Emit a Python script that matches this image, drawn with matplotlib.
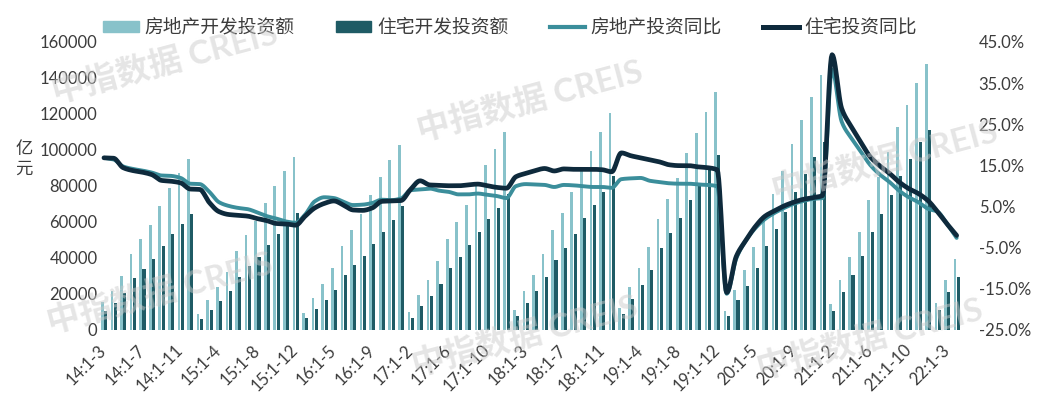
import numpy as np
import matplotlib
matplotlib.use("Agg")
import matplotlib.pyplot as plt
from matplotlib.patches import Patch
from matplotlib.lines import Line2D
from matplotlib.ticker import FuncFormatter

# ---------------- data ----------------
periods = ([f"14:1-{m}" for m in range(3, 13)]
           + [f"{y}:1-{m}" for y in range(15, 22) for m in range(2, 13)]
           + [f"22:1-{m}" for m in range(2, 5)])

# 房地产开发投资额 (亿元)
total_inv = [
    15339, 21592, 30038, 42019, 50258, 58384, 68751, 78816, 87229, 95036,
    8786, 16403, 23669, 32167, 43955, 52494, 60598, 70535, 80090, 88481, 95979,
    9454, 17677, 25282, 34300, 46631, 55360, 64167, 74598, 84743, 94306, 102581,
    9854, 19292, 27732, 37970, 50610, 59761, 69494, 80644, 91533, 100387, 109799,
    10927, 21291, 30592, 42119, 55531, 64691, 76519, 88948, 99325, 110083, 120264,
    12090, 23803, 34217, 46075, 61609, 72843, 84589, 98008, 109603, 121265, 132194,
    10115, 21963, 33103, 45920, 62780, 75325, 88454, 103484, 116556, 129492, 141443,
    13986, 27576, 40240, 54318, 72179, 84895, 98949, 112568, 124934, 137086, 147602,
    14499, 27765, 39154,
]
# 住宅开发投资额 (亿元)
resi_inv = [
    10513, 14707, 20432, 28447, 33925, 39431, 46354, 53123, 58725, 64352,
    5958, 11063, 15941, 21666, 29446, 35141, 40464, 47001, 53265, 58719, 64595,
    6261, 11582, 16512, 22255, 30190, 35693, 41142, 47833, 54367, 60742, 68704,
    6658, 12851, 18593, 25508, 34144, 40264, 46936, 54347, 61713, 67769, 75148,
    7468, 14768, 21250, 29278, 38523, 45117, 53257, 61873, 69093, 76622, 85192,
    8529, 17097, 24703, 33013, 45167, 53564, 62189, 72146, 80721, 89495, 97071,
    7424, 16183, 24473, 34102, 46350, 55727, 65454, 76769, 86457, 96162, 104446,
    10428, 20624, 30420, 40951, 54393, 64206, 75029, 85508, 94992, 104342, 111173,
    10819, 20761, 29232,
]
# 房地产投资同比 (%)
total_yoy = [
    16.8, 16.4, 14.7, 14.1, 13.7, 13.2, 12.5, 12.4, 11.9, 10.5,
    10.4, 8.5, 6.0, 5.1, 4.6, 4.3, 3.5, 2.6, 2.0, 1.3, 1.0,
    3.0, 6.2, 7.2, 7.0, 6.1, 5.3, 5.4, 5.8, 6.6, 6.5, 6.9,
    8.9, 9.1, 9.3, 8.8, 8.5, 7.9, 7.9, 8.1, 7.8, 7.5, 7.0,
    9.9, 10.4, 10.3, 10.2, 9.7, 10.2, 10.1, 9.9, 9.7, 9.7, 9.5,
    11.6, 11.8, 11.9, 11.2, 10.9, 10.6, 10.5, 10.5, 10.3, 10.2, 9.9,
    -16.3, -7.7, -3.3, -0.3, 1.9, 3.4, 4.6, 5.6, 6.3, 6.8, 7.0,
    38.3, 25.6, 21.6, 18.3, 15.0, 12.7, 10.9, 8.8, 7.2, 6.0, 4.4,
    3.7, 0.7, -2.7,
]
# 住宅投资同比 (%)
resi_yoy = [
    16.8, 16.7, 14.4, 13.7, 13.3, 12.7, 11.3, 11.1, 10.7, 9.2,
    9.1, 5.9, 3.7, 3.0, 2.8, 2.6, 2.0, 1.5, 0.8, 0.7, 0.4,
    2.6, 4.6, 5.7, 6.3, 5.3, 4.1, 4.0, 4.6, 6.2, 6.3, 6.4,
    9.1, 11.2, 10.2, 10.1, 10.0, 10.0, 10.2, 10.4, 10.0, 9.6, 9.4,
    12.2, 13.0, 13.7, 14.2, 13.6, 14.1, 14.0, 14.0, 14.0, 13.9, 13.4,
    18.0, 17.3, 16.8, 16.3, 15.8, 15.1, 14.9, 14.9, 14.6, 14.4, 13.9,
    -16.0, -7.2, -3.3, 0.1, 2.6, 3.9, 5.1, 6.0, 6.7, 7.1, 7.6,
    41.9, 28.8, 24.4, 20.6, 17.0, 14.8, 13.0, 10.9, 9.3, 8.1, 6.4,
    3.7, 0.7, -2.1,
]

labels = ["房地产开发投资额", "住宅开发投资额", "房地产投资同比", "住宅投资同比"]

# ---------------- style ----------------
C_LIGHT = "#88c2ca"
C_DARK = "#1f5b65"
C_TEAL = "#3b8e9b"
C_NAVY = "#0e2a3c"
C_TEXT = "#3c3c3c"
FONT = ["Lato", "Noto Sans CJK SC", "DejaVu Sans"]
plt.rcParams["font.family"] = FONT

W, H = 1039, 397
fig = plt.figure(figsize=(W / 100, H / 100), dpi=100)
left, right, top, bottom = 99, 962, 42, 329.5
ax = fig.add_axes([left / W, (H - bottom) / H, (right - left) / W, (bottom - top) / H])
ax.set_facecolor("none")


def smooth(y, n=12):
    """Monotone (PCHIP) cubic drawn through the series' category positions."""
    y = np.asarray(y, float)
    d = np.diff(y)
    m = np.zeros_like(y)
    m[0], m[-1] = d[0], d[-1]
    for k in range(1, len(y) - 1):
        if d[k - 1] * d[k] > 0:
            m[k] = 2.0 / (1.0 / d[k - 1] + 1.0 / d[k])
    t = np.linspace(0, 1, n, endpoint=False)
    h00 = 2 * t ** 3 - 3 * t ** 2 + 1
    h10 = t ** 3 - 2 * t ** 2 + t
    h01 = -2 * t ** 3 + 3 * t ** 2
    h11 = t ** 3 - t ** 2
    xs, ys = [], []
    for k in range(len(y) - 1):
        xs.append(k + t)
        ys.append(h00 * y[k] + h10 * m[k] + h01 * y[k + 1] + h11 * m[k + 1])
    xs.append([len(y) - 1.0])
    ys.append([y[-1]])
    return np.concatenate(xs), np.concatenate(ys)


idx = np.arange(len(periods))
ax.bar(idx - 0.17, total_inv, width=0.28, color=C_LIGHT, zorder=2)
ax.bar(idx + 0.18, resi_inv, width=0.32, color=C_DARK, zorder=2)
ax.set_ylim(0, 160000)
ax.set_xlim(-0.52, 89.56)
ax.set_yticks(np.arange(0, 160001, 20000))
ax.set_xticks(idx[::4])
ax.set_xticklabels(periods[::4], rotation=45, ha="right", va="center",
                   rotation_mode="anchor", fontsize=12, color=C_TEXT)
ax.tick_params(axis="x", length=0, pad=13)
ax.tick_params(axis="y", length=0, pad=1, labelsize=12, labelcolor=C_TEXT)
for s in ax.spines.values():
    s.set_visible(False)

ax2 = ax.twinx()
xs, ys = smooth(total_yoy)
ax2.plot(xs, ys, color=C_TEAL, lw=2.8, solid_capstyle="round", solid_joinstyle="round", zorder=3)
xs, ys = smooth(resi_yoy)
ax2.plot(xs, ys, color=C_NAVY, lw=3.4, solid_capstyle="round", solid_joinstyle="round", zorder=4)
ax2.set_ylim(-25, 45)
ax2.set_yticks(np.arange(-25, 46, 10))
ax2.yaxis.set_major_formatter(FuncFormatter(lambda v, p: f"{v:.1f}%"))
ax2.tick_params(axis="y", length=0, pad=12, labelsize=12, labelcolor=C_TEXT)
for s in ax2.spines.values():
    s.set_visible(False)

handles = [Patch(color=C_LIGHT), Patch(color=C_DARK),
           Line2D([], [], color=C_TEAL, lw=3.0), Line2D([], [], color=C_NAVY, lw=3.6)]
leg = fig.legend(handles, labels, loc="center", bbox_to_anchor=(0.491, 1 - 27 / H),
                 ncol=4, frameon=False, fontsize=13.5, handlelength=1.9,
                 handletextpad=0.3, columnspacing=2.2, handleheight=0.55)
for t in leg.get_texts():
    t.set_color(C_TEXT)

fig.text(24 / W, 1 - 159 / H, "亿\n元", fontsize=12.5, ha="center", va="center",
         linespacing=1.3, color=C_TEXT)

# watermarks
for cx, cy in [(165, 62), (530, 100), (885, 160), (160, 292), (525, 335), (870, 338)]:
    fig.text(cx / W, 1 - cy / H, "中指数据 CREIS", fontsize=24, fontweight="bold",
             color="#cccccc", alpha=0.5, rotation=15, ha="center", va="center",
             zorder=10)

fig.savefig("out.png", dpi=100)
